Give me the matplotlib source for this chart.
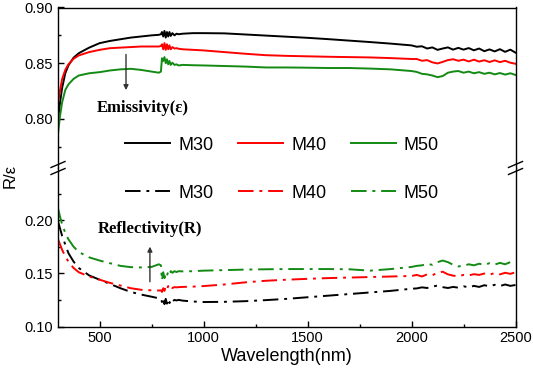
import matplotlib
matplotlib.use("Agg")
import matplotlib.pyplot as plt
from matplotlib.lines import Line2D
from matplotlib.ticker import MultipleLocator

plt.rcParams['font.family'] = ['Liberation Sans', 'DejaVu Sans']

wavelength = [300, 310, 320, 335, 350, 375, 400, 450, 500, 550, 600, 650, 700, 750,
              785, 795, 800, 806, 812, 818, 824, 830, 836, 842, 850, 860, 870, 880,
              900, 950, 1000, 1100, 1200, 1300, 1400, 1500, 1600, 1700, 1800, 1900, 2000,
              2025, 2050, 2075, 2100, 2125, 2150, 2175, 2200, 2225, 2250, 2275, 2300,
              2325, 2350, 2375, 2400, 2425, 2450, 2475, 2500]

emis_m30 = [0.800, 0.815, 0.828, 0.841, 0.848, 0.855, 0.859, 0.864, 0.868, 0.870, 0.8715, 0.873, 0.874, 0.875,
            0.8755, 0.876, 0.878, 0.874, 0.879, 0.873, 0.878, 0.874, 0.878, 0.8745, 0.877, 0.875, 0.8765, 0.876,
            0.8765, 0.877, 0.877, 0.8768, 0.8758, 0.8748, 0.8738, 0.8728, 0.8716, 0.8703, 0.869, 0.8676, 0.866,
            0.8648, 0.8652, 0.8632, 0.8642, 0.862, 0.8632, 0.8642, 0.8622, 0.8638, 0.8622, 0.8636, 0.8616,
            0.8632, 0.8608, 0.8624, 0.8606, 0.8626, 0.8602, 0.8622, 0.8595]
emis_m40 = [0.814, 0.826, 0.836, 0.844, 0.849, 0.854, 0.857, 0.860, 0.862, 0.8635, 0.864, 0.8645, 0.865, 0.865,
            0.865, 0.8655, 0.867, 0.8625, 0.868, 0.862, 0.867, 0.8625, 0.866, 0.8625, 0.8645, 0.8632, 0.8635, 0.863,
            0.8625, 0.862, 0.8615, 0.860, 0.8585, 0.8572, 0.8566, 0.8562, 0.8558, 0.8555, 0.8552, 0.8546, 0.8538,
            0.8538, 0.8522, 0.8528, 0.8508, 0.8498, 0.8512, 0.8528, 0.8536, 0.8522, 0.8532, 0.8516, 0.8532,
            0.8515, 0.8527, 0.8511, 0.8526, 0.851, 0.8522, 0.8505, 0.8495]
emis_m50 = [0.787, 0.803, 0.815, 0.826, 0.831, 0.836, 0.839, 0.841, 0.842, 0.8435, 0.8445, 0.845, 0.844, 0.8425,
            0.8415, 0.8425, 0.8545, 0.852, 0.8555, 0.850, 0.8535, 0.849, 0.852, 0.8485, 0.8505, 0.8485, 0.849, 0.848,
            0.8485, 0.8482, 0.848, 0.8475, 0.847, 0.8462, 0.8462, 0.846, 0.8457, 0.8457, 0.8452, 0.8445, 0.843,
            0.8422, 0.8405, 0.840, 0.839, 0.8375, 0.8385, 0.8415, 0.8425, 0.843, 0.8415, 0.8425, 0.841,
            0.842, 0.8405, 0.8415, 0.840, 0.8412, 0.8398, 0.841, 0.8395]

refl_m30 = [0.199, 0.192, 0.185, 0.177, 0.169, 0.161, 0.155, 0.148, 0.144, 0.140, 0.136, 0.1325, 0.130, 0.128,
            0.1265, 0.126, 0.123, 0.127, 0.121, 0.126, 0.1215, 0.1255, 0.122, 0.1255, 0.1235, 0.125, 0.1245, 0.125,
            0.1243, 0.1235, 0.123, 0.1232, 0.1238, 0.1248, 0.126, 0.1275, 0.129, 0.1305, 0.132, 0.1335, 0.1355,
            0.1358, 0.1368, 0.1362, 0.1375, 0.1385, 0.1370, 0.1362, 0.1372, 0.1365, 0.1378, 0.1368, 0.1382,
            0.1372, 0.1388, 0.1378, 0.1392, 0.138, 0.1395, 0.1382, 0.139]
refl_m40 = [0.182, 0.177, 0.172, 0.166, 0.161, 0.155, 0.151, 0.147, 0.144, 0.141, 0.1385, 0.136, 0.1345, 0.134,
            0.1338, 0.134, 0.1325, 0.136, 0.1335, 0.1375, 0.135, 0.138, 0.1355, 0.1375, 0.1362, 0.137, 0.1368, 0.137,
            0.1372, 0.1375, 0.138, 0.1395, 0.1415, 0.143, 0.144, 0.1448, 0.1455, 0.146, 0.1465, 0.147, 0.1475,
            0.1485, 0.147, 0.149, 0.1482, 0.1505, 0.1515, 0.149, 0.1478, 0.1472, 0.1485, 0.148, 0.1492,
            0.1485, 0.1498, 0.1488, 0.1502, 0.149, 0.1505, 0.1495, 0.151]
refl_m50 = [0.211, 0.203, 0.196, 0.188, 0.182, 0.175, 0.170, 0.165, 0.162, 0.1595, 0.157, 0.1558, 0.1555, 0.156,
            0.1585, 0.1575, 0.1435, 0.151, 0.1455, 0.1505, 0.148, 0.1515, 0.149, 0.152, 0.1505, 0.152, 0.1512, 0.152,
            0.1518, 0.152, 0.1525, 0.153, 0.1535, 0.1538, 0.154, 0.154, 0.154, 0.1538, 0.1525, 0.154, 0.156,
            0.157, 0.1575, 0.1588, 0.158, 0.1605, 0.162, 0.1605, 0.158, 0.1565, 0.157, 0.1585, 0.1575,
            0.159, 0.158, 0.1595, 0.1582, 0.1598, 0.1585, 0.1605, 0.160]

labels = ['M30', 'M40', 'M50']
colors = ['#000000', '#ff0000', '#138a13']
emis = [emis_m30, emis_m40, emis_m50]
refl = [refl_m30, refl_m40, refl_m50]

W, H = 533, 372
fig = plt.figure(figsize=(W / 100, H / 100), dpi=100)
left, right = 58 / W, 515.5 / W
y_top, y_break, y_bot = 1 - 7.5 / H, 1 - 168 / H, 1 - 326.5 / H
ax_t = fig.add_axes([left, y_break, right - left, y_top - y_break])
ax_b = fig.add_axes([left, y_bot, right - left, y_break - y_bot], sharex=ax_t)

dashdot = (0, (8, 3, 1.5, 3))
solid_handles, dd_handles = [], []
for lab, c, e, r in zip(labels, colors, emis, refl):
    h1, = ax_t.plot(wavelength, e, color=c, lw=1.4, label=lab)
    h2, = ax_b.plot(wavelength, r, color=c, lw=1.4, linestyle=dashdot, label=lab)
    solid_handles.append(h1)
    dd_handles.append(h2)

ax_t.set_xlim(300, 2500)
ax_t.set_ylim(0.756, 0.90)
ax_b.set_ylim(0.10, 0.249)

for ax in (ax_t, ax_b):
    for s in ax.spines.values():
        s.set_linewidth(1.0)
    ax.tick_params(direction='in', labelsize=10.5, length=4, width=1.0)
    ax.tick_params(which='minor', direction='in', length=2.5, width=1.0)
ax_t.spines['bottom'].set_visible(False)
ax_b.spines['top'].set_visible(False)
ax_t.tick_params(axis='x', which='both', bottom=False, labelbottom=False)
ax_t.yaxis.set_major_locator(MultipleLocator(0.05))
ax_t.yaxis.set_minor_locator(MultipleLocator(0.025))
ax_b.yaxis.set_major_locator(MultipleLocator(0.05))
ax_b.yaxis.set_minor_locator(MultipleLocator(0.025))
ax_b.xaxis.set_major_locator(MultipleLocator(500))
ax_b.xaxis.set_minor_locator(MultipleLocator(250))
ax_t.yaxis.set_major_formatter(plt.FormatStrFormatter('%.2f'))
ax_b.yaxis.set_major_formatter(plt.FormatStrFormatter('%.2f'))
ax_b.set_xlabel('Wavelength(nm)', fontsize=13, labelpad=2)
fig.text(10 / W, 1 - 176 / H, 'R/ε', rotation=90, fontsize=12, ha='center', va='center')

# break marks
for xp in (left, right):
    for dy in (-3.5, 3.5):
        yc = y_break + dy / H
        fig.add_artist(Line2D([xp - 7 / W, xp + 7 / W], [yc - 3 / H, yc + 3 / H],
                              color='black', lw=1.0, transform=fig.transFigure))

leg_kw = dict(ncol=3, frameon=False, fontsize=13, handlelength=2.5, handletextpad=0.45,
              columnspacing=1.35, loc='center')
fig.legend(handles=solid_handles, bbox_to_anchor=(282 / W, 1 - 145 / H), **leg_kw)
fig.legend(handles=dd_handles, bbox_to_anchor=(282 / W, 1 - 193 / H), **leg_kw)

serif = dict(family=['Liberation Serif', 'DejaVu Serif'], weight='bold', fontsize=12)
ax_t.text(709, 0.810, 'Emissivity(ε)', ha='center', va='center', **serif)
ax_b.text(742, 0.192, 'Reflectivity(R)', ha='center', va='center', **serif)
ax_t.annotate('', xy=(627, 0.8234), xytext=(627, 0.8604),
              arrowprops=dict(arrowstyle='-|>', color='#333333', lw=1.0, mutation_scale=7))
ax_b.annotate('', xy=(742, 0.1777), xytext=(742, 0.1395),
              arrowprops=dict(arrowstyle='-|>', color='#333333', lw=1.0, mutation_scale=7))

fig.savefig('out.png', dpi=100)
